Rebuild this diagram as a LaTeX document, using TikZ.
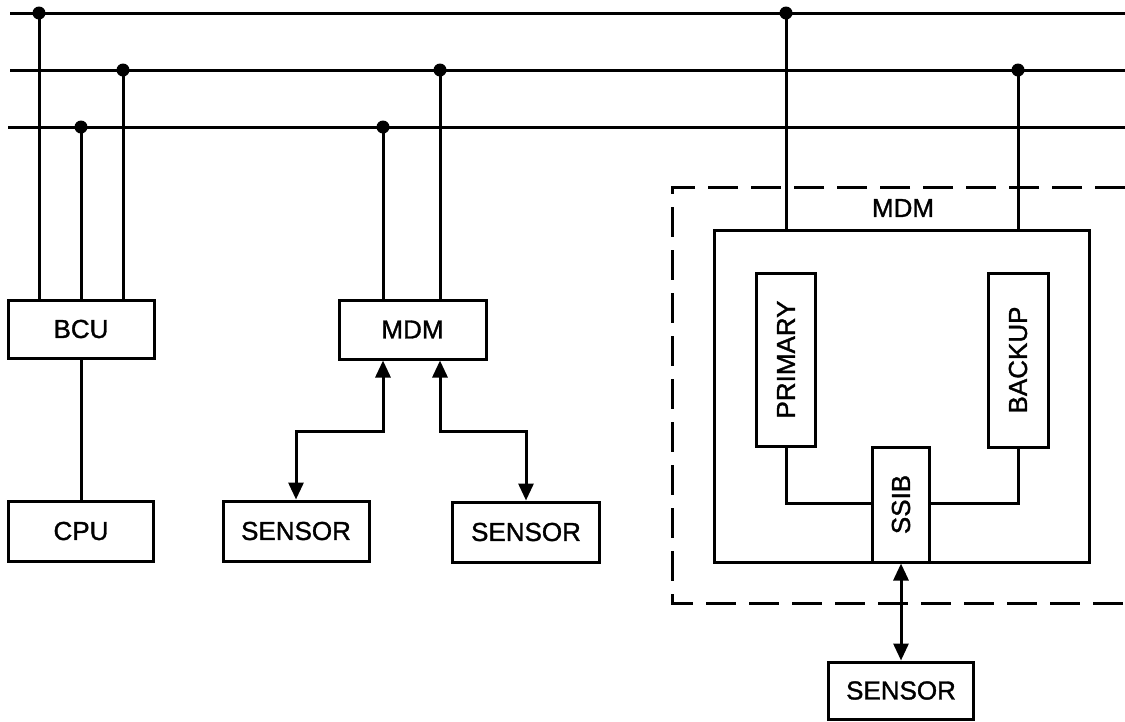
\documentclass[tikz,border=0pt]{standalone}
\usepackage{fontspec}
\setmainfont{Liberation Sans}[BoldFont=Liberation Sans,BoldFeatures={FakeBold=1.3}]
\usetikzlibrary{arrows.meta}
\begin{document}
\begin{tikzpicture}[x=1pt,y=-1pt,line width=3pt,
  box/.style={draw,line width=3pt,inner sep=0pt,font=\fontsize{26}{26}\selectfont\bfseries},
  lbl/.style={inner sep=0pt,font=\fontsize{26}{26}\selectfont\bfseries},
  dot/.style={circle,fill,inner sep=0pt,minimum size=13pt},
  dbl/.style={{Triangle[length=17pt,width=15pt]}-{Triangle[length=17pt,width=15pt]},line width=3pt},
  dashbox/.style={dash pattern=on 30pt off 13pt,line width=3pt}]
\useasboundingbox (0,0) rectangle (1125,721);

% bus ends
\coordinate (b1l) at (10,13);  \coordinate (b1r) at (1125,13);
\coordinate (b2l) at (10,70);  \coordinate (b2r) at (1125,70);
\coordinate (b3l) at (8,127);  \coordinate (b3r) at (1125,127);
\draw (b1l) -- (b1r);
\draw (b2l) -- (b2r);
\draw (b3l) -- (b3r);

% taps
\node[dot] (d1) at (39,13) {};
\node[dot] (d2) at (786,13) {};
\node[dot] (d3) at (123,70) {};
\node[dot] (d4) at (440,70) {};
\node[dot] (d5) at (1018,70) {};
\node[dot] (d6) at (81,127) {};
\node[dot] (d7) at (383,127) {};

% boxes
\node[box,minimum width=146pt,minimum height=58pt] (bcu) at (81,329) {BCU};
\node[box,minimum width=145pt,minimum height=60pt] (cpu) at (81,531) {CPU};
\node[box,minimum width=146pt,minimum height=60pt] (s1) at (296,531) {SENSOR};
\node[box,minimum width=147pt,minimum height=59pt] (mdm) at (412.5,329.5) {MDM};
\node[box,minimum width=147pt,minimum height=60pt] (s2) at (526,532) {SENSOR};

% right MDM
\draw[dashbox] (1125,187) -- (672,187) -- (672,603) -- (1125,603);
\node[lbl] (mdml) at (903,208) {MDM};
\node[draw,line width=3pt,minimum width=375pt,minimum height=332pt,inner sep=0pt] (imdm) at (901.5,396) {};
\node[box,minimum width=59pt,minimum height=173pt] (prim) at (786,359.5) {\rotatebox{90}{PRIMARY}};
\node[box,minimum width=60pt,minimum height=174pt] (back) at (1018,360) {\rotatebox{90}{BACKUP}};
\node[box,minimum width=57pt,minimum height=115pt] (ssib) at (901,504.5) {\rotatebox{90}{SSIB}};
\node[box,minimum width=145pt,minimum height=57pt] (s3) at (901,690.5) {SENSOR};

% connectors
\draw (d1.center) -- (d1.center |- bcu.north);
\draw (d6.center) -- (d6.center |- bcu.north);
\draw (d3.center) -- (d3.center |- bcu.north);
\draw (bcu) -- (cpu);
\draw (d7.center) -- (d7.center |- mdm.north);
\draw (d4.center) -- (d4.center |- mdm.north);
\draw (d2.center) -- (d2.center |- imdm.north);
\draw (d5.center) -- (d5.center |- imdm.north);
\coordinate (j) at (0,431);
\draw[dbl] (mdm.south -| d7) -- (j -| d7) -| (s1.north);
\draw[dbl] (mdm.south -| d4) -- (j -| d4) -| (s2.north);
\coordinate (k) at (0,503);
\draw (prim.south) -- (prim.south |- k) -- (ssib.west |- k);
\draw (back.south) -- (back.south |- k) -- (ssib.east |- k);
\draw[dbl] (ssib.south) -- (s3.north);
\end{tikzpicture}
\end{document}
